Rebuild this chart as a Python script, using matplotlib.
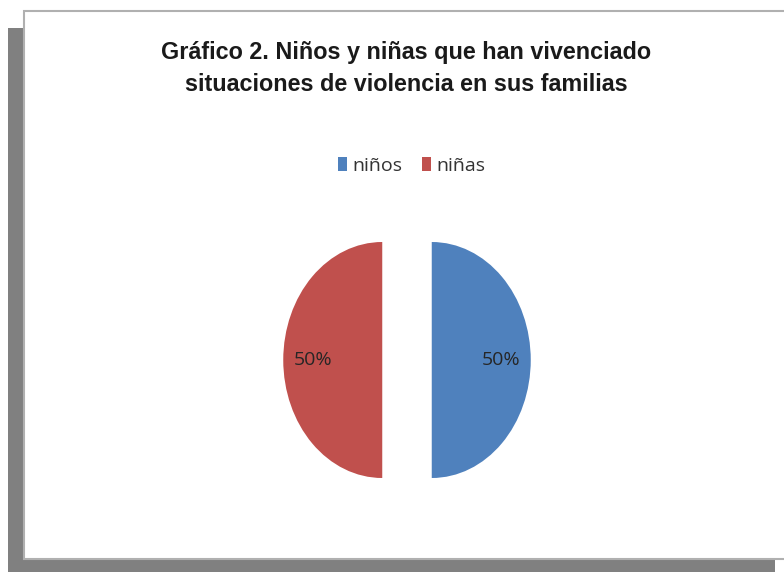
import matplotlib
matplotlib.use("Agg")
import matplotlib.pyplot as plt
from matplotlib.patches import Rectangle

# data
categories = ["niños", "niñas"]
values = [50, 50]
colors = ["#4F81BD", "#C0504D"]
title = "Gráfico 2. Niños y niñas que han vivenciado\nsituaciones de violencia en sus familias"

W, H = 784, 572
fig = plt.figure(figsize=(W / 100, H / 100), dpi=100, facecolor="white")


def px(x0, y0, x1, y1):
    # pixel box (top-left origin) -> figure fraction rect
    return (x0 / W, 1 - y1 / H, (x1 - x0) / W, (y1 - y0) / H)


# shadow and white panel
x, y, w, h = px(8, 28, 775, 575)
fig.patches.append(Rectangle((x, y), w, h, transform=fig.transFigure,
                             facecolor="#808080", edgecolor="none", zorder=-3))
x, y, w, h = px(24, 11, 790, 559)
fig.patches.append(Rectangle((x, y), w, h, transform=fig.transFigure,
                             facecolor="white", edgecolor="#b0b0b0", lw=1.5, zorder=-2))

fig.text(406 / W, 1 - 68.5 / H, title, ha="center", va="center",
         fontsize=16.8, fontweight="bold", color="#1a1a1a", linespacing=1.5,
         family=["Liberation Sans Narrow", "Liberation Sans", "DejaVu Sans"])

# pie axes: vertical 118 px/unit, horizontal 99 px/unit
cx, cy = 407, 360
aw, ah = 400, 280
ax = fig.add_axes(px(cx - aw / 2, cy - ah / 2, cx + aw / 2, cy + ah / 2))
wedges, texts, autotexts = ax.pie(values, colors=colors, startangle=90, counterclock=False,
                                  explode=[0.25, 0.25], autopct="%1.0f%%", pctdistance=0.7,
                                  wedgeprops=dict(edgecolor="none"),
                                  textprops=dict(fontsize=14, color="#262626",
                                                 family=["Open Sans", "DejaVu Sans"]))
ax.set_aspect("auto")
ax.set_xlim(-aw / 2 / 99, aw / 2 / 99)
ax.set_ylim(-ah / 2 / 118, ah / 2 / 118)
ax.axis("off")

leg = fig.legend(wedges, categories, loc="center", bbox_to_anchor=(412 / W, 1 - 166 / H),
                 ncol=2, frameon=False, handlelength=0.45, handleheight=0.75,
                 handletextpad=0.3, columnspacing=1.0,
                 prop=dict(family=["Open Sans", "DejaVu Sans"], size=14))
for t in leg.get_texts():
    t.set_color("#333333")

fig.savefig("out.png", dpi=100, facecolor="white")
